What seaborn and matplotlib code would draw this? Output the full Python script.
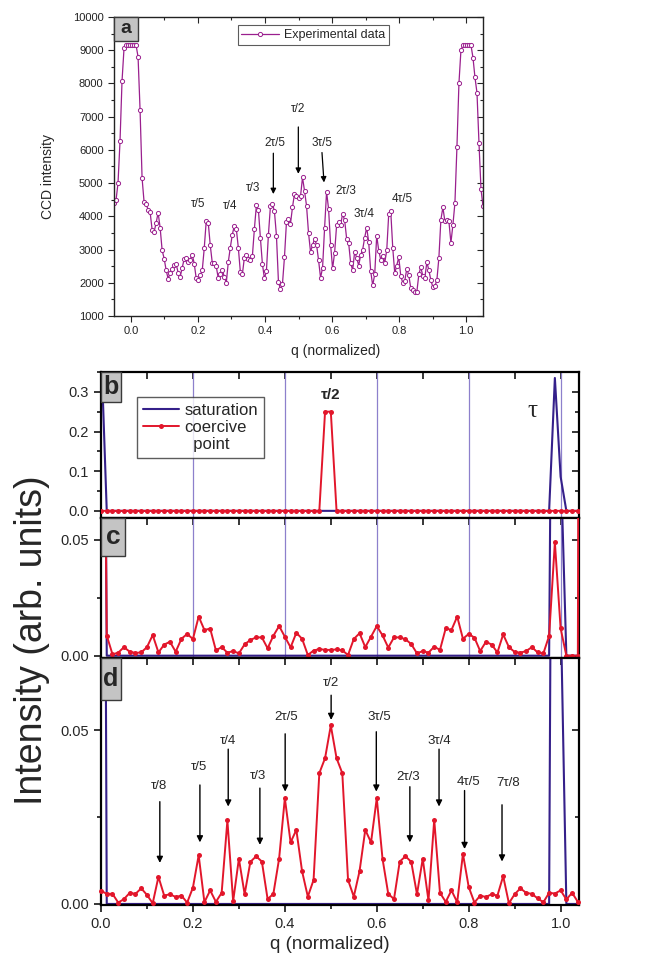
import numpy as np
import matplotlib
matplotlib.use("Agg")
import matplotlib.pyplot as plt
import seaborn as sns
from matplotlib.lines import Line2D
from matplotlib.patches import Rectangle
from matplotlib.ticker import MultipleLocator, FormatStrFormatter

sns.set_style("ticks")
plt.rcParams['font.family'] = ['Liberation Sans', 'DejaVu Sans']

# ---------------- panel a: measured CCD profile ----------------
ccd_counts = [
    4400, 4480, 5000, 6260, 8070, 9060, 9150, 9150, 9150, 9150,
    9150, 9150, 8800, 7200, 5150, 4430, 4370, 4200, 4130, 3600,
    3530, 3800, 4110, 3660, 2980, 2730, 2380, 2120, 2300, 2420,
    2530, 2560, 2300, 2180, 2450, 2720, 2750, 2620, 2700, 2850,
    2580, 2130, 2080, 2230, 2370, 3040, 3870, 3800, 3130, 2600,
    2600, 2490, 2130, 2250, 2390, 2180, 2000, 2630, 3060, 3450,
    3720, 3620, 3050, 2330, 2250, 2750, 2850, 2730, 2680, 2800,
    3620, 4330, 4200, 3350, 2570, 2130, 2350, 3450, 4300, 4380,
    4150, 3420, 2030, 1800, 1960, 2770, 3830, 3930, 3780, 4270,
    4680, 4620, 4550, 4600, 5170, 4770, 4320, 3500, 2930, 3130,
    3320, 3150, 2680, 2150, 2450, 3640, 4740, 4220, 3150, 2430,
    2900, 3730, 3830, 3750, 4070, 3890, 3330, 3200, 2600, 2380,
    2930, 2760, 2520, 2830, 3000, 3360, 3660, 3230, 2350, 1920,
    2250, 3420, 2970, 2700, 2820, 2600, 2980, 4080, 4150, 3050,
    2280, 2520, 2770, 2200, 2000, 2060, 2420, 2230, 1830, 1780,
    1710, 1720, 2250, 2470, 2200, 2150, 2620, 2380, 2080, 1870,
    1890, 2080, 2750, 3900, 4270, 3850, 3900, 3850, 3200, 3750,
    4400, 6080, 8000, 9000, 9150, 9150, 9150, 9150, 9150, 8780,
    8180, 7720, 6200, 4820, 4300,
]
q_exp = np.linspace(-0.05, 1.05, len(ccd_counts))

a_labels = ['τ/5', 'τ/4', 'τ/3', '2τ/5', 'τ/2', '3τ/5', '2τ/3', '3τ/4', '4τ/5']
a_label_q = [0.202, 0.296, 0.365, 0.431, 0.4975, 0.569, 0.642, 0.694, 0.808]
a_label_y = [4375, 4325, 4850, 6220, 7220, 6220, 4770, 4060, 4525]
a_arrow_tail_q = [0.425, 0.4995, 0.570]
a_arrow_tail_y = [5900, 6690, 5920]
a_arrow_tip_q = [0.425, 0.4995, 0.576]
a_arrow_tip_y = [4670, 5280, 5020]

# ---------------- panels b-d: simulated diffraction ----------------
q_step = 1.0 / 80
saturation = [0.42] + [0.0] * 78 + [0.335, 0.086] + [0.0] * 3

coercive_b = [0.0] * 39 + [0.25, 0.25] + [0.0] * 43

coercive_c = [
    0.30, 0.0087, 0.0006, 0.0013, 0.0037, 0.0017, 0.0012, 0.0014, 0.0037, 0.0089,
    0.0014, 0.0048, 0.0060, 0.0017, 0.0073, 0.0094, 0.0072, 0.0169, 0.0111, 0.0117,
    0.0023, 0.0037, 0.0013, 0.0020, 0.0010, 0.0049, 0.0068, 0.0079, 0.0079, 0.0032,
    0.0086, 0.0128, 0.0082, 0.0036, 0.0099, 0.0073, 0.0003, 0.0022, 0.0029, 0.0025,
    0.0025, 0.0027, 0.0023, 0.0003, 0.0072, 0.0097, 0.0037, 0.0082, 0.0128, 0.0088,
    0.0035, 0.0079, 0.0079, 0.0071, 0.0050, 0.0010, 0.0020, 0.0013, 0.0039, 0.0025,
    0.0118, 0.0111, 0.0169, 0.0073, 0.0094, 0.0078, 0.0020, 0.0060, 0.0048, 0.0014,
    0.0092, 0.0037, 0.0016, 0.0013, 0.0020, 0.0037, 0.0014, 0.0010, 0.0086, 0.0490,
    0.0118, 0.0, 0.0, 0.0, 1.0,
]

coercive_d = [
    0.0038, 0.0029, 0.0029, 0.0004, 0.0014, 0.0032, 0.0029, 0.0045, 0.0026, 0.0002,
    0.0078, 0.0024, 0.0028, 0.0020, 0.0024, 0.0004, 0.0047, 0.0140, 0.0005, 0.0039,
    0.0006, 0.0032, 0.0240, 0.0008, 0.0130, 0.0028, 0.0121, 0.0137, 0.0122, 0.0014,
    0.0029, 0.0130, 0.0304, 0.0177, 0.0213, 0.0094, 0.0021, 0.0069, 0.0376, 0.0419,
    0.0513, 0.0419, 0.0376, 0.0069, 0.0021, 0.0094, 0.0213, 0.0177, 0.0304, 0.0130,
    0.0029, 0.0014, 0.0122, 0.0137, 0.0121, 0.0028, 0.0130, 0.0010, 0.0242, 0.0032,
    0.0006, 0.0039, 0.0005, 0.0144, 0.0049, 0.0004, 0.0024, 0.0020, 0.0028, 0.0024,
    0.0080, 0.0002, 0.0028, 0.0045, 0.0032, 0.0029, 0.0016, 0.0005, 0.0032, 0.0030,
    0.0039, 0.0013, 0.0032, 0.0006,
]

q_sat = np.arange(len(saturation)) * q_step
q_b = np.arange(len(coercive_b)) * q_step
q_c = np.arange(len(coercive_c)) * q_step
q_d = np.arange(len(coercive_d)) * q_step

guide_q = [0.2, 0.4, 0.6, 0.8, 1.0]

d_labels = ['τ/8', 'τ/5', 'τ/4', 'τ/3', '2τ/5', 'τ/2', '3τ/5', '2τ/3', '3τ/4', '4τ/5', '7τ/8']
d_label_q = [0.127, 0.214, 0.277, 0.342, 0.4036, 0.4993, 0.605, 0.668, 0.737, 0.7986, 0.8855]
d_label_y = [0.0339, 0.0395, 0.0468, 0.0369, 0.0536, 0.0634, 0.0536, 0.0366, 0.0468, 0.0350, 0.0347]
d_arrow_q = [0.128, 0.2152, 0.2768, 0.3457, 0.4007, 0.5007, 0.599, 0.672, 0.7355, 0.791, 0.8725]
d_arrow_top = [0.0294, 0.0342, 0.0445, 0.0333, 0.0489, 0.0600, 0.0495, 0.0337, 0.0445, 0.0326, 0.0285]
d_arrow_tip = [0.0118, 0.0177, 0.0280, 0.0170, 0.0323, 0.0529, 0.0323, 0.0177, 0.0280, 0.0158, 0.0122]

PURPLE = '#9a1f8e'
RED = '#e2162b'
BLUE = '#35208a'
GUIDE = '#8d80cc'

W, H = 661, 965
fig = plt.figure(figsize=(W / 100, H / 100), dpi=100)


def axes_px(x0, y0, x1, y1):
    return fig.add_axes([x0 / W, 1 - y1 / H, (x1 - x0) / W, (y1 - y0) / H])


def inner_ticks(ax, xmaj, xmin, ymaj, ymin, lmaj, lmin, width):
    top = ax.secondary_xaxis('top')
    top.xaxis.set_major_locator(MultipleLocator(xmaj))
    top.xaxis.set_minor_locator(MultipleLocator(xmin))
    top.tick_params(which='both', direction='in', labeltop=False, width=width)
    top.tick_params(which='major', length=lmaj)
    top.tick_params(which='minor', length=lmin)
    right = ax.secondary_yaxis('right')
    right.yaxis.set_major_locator(MultipleLocator(ymaj))
    right.yaxis.set_minor_locator(MultipleLocator(ymin))
    right.tick_params(which='both', direction='in', labelright=False, width=width)
    right.tick_params(which='major', length=lmaj)
    right.tick_params(which='minor', length=lmin)
    for sec in (top, right):
        for sp in sec.spines.values():
            sp.set_visible(False)


def panel_tag(ax, letter, w_px, h_px, size):
    bb = ax.get_position()
    aw, ah = bb.width * W, bb.height * H
    w, h = w_px / aw, h_px / ah
    ax.add_patch(Rectangle((0, 1 - h), w, h, transform=ax.transAxes,
                           facecolor='#c4c4c4', edgecolor='#3a3a3a', lw=1.0,
                           zorder=6, clip_on=False))
    ax.text(w / 2, 1 - h / 2, letter, transform=ax.transAxes, ha='center',
            va='center', fontsize=size, fontweight='bold', zorder=7)


# ---------------- panel a ----------------
ax_a = axes_px(114, 17, 483, 316)
sns.lineplot(x=q_exp, y=ccd_counts, ax=ax_a, color=PURPLE, linewidth=0.9,
             marker='o', markersize=3.0, markerfacecolor='white',
             markeredgecolor=PURPLE, markeredgewidth=0.7, sort=False,
             estimator=None, label='Experimental data')
ax_a.set_xlim(-0.05, 1.05)
ax_a.set_ylim(1000, 10000)
ax_a.xaxis.set_major_locator(MultipleLocator(0.2))
ax_a.xaxis.set_minor_locator(MultipleLocator(0.1))
ax_a.yaxis.set_major_locator(MultipleLocator(1000))
ax_a.yaxis.set_minor_locator(MultipleLocator(500))
ax_a.xaxis.set_major_formatter(FormatStrFormatter('%.1f'))
ax_a.tick_params(which='both', direction='out', labelsize=8, width=0.8,
                 colors='#222222')
ax_a.tick_params(which='major', length=4)
ax_a.tick_params(which='minor', length=2.5)
inner_ticks(ax_a, 0.2, 0.1, 1000, 500, 4, 2.5, 0.8)
for sp in ax_a.spines.values():
    sp.set_linewidth(1.0)
    sp.set_color('#222222')
ax_a.set_ylabel('CCD intensity', fontsize=10)
ax_a.yaxis.set_label_coords(-0.16, 0.465)
ax_a.set_xlabel('q (normalized)', fontsize=10)
ax_a.xaxis.set_label_coords(0.60, -0.092)
for lab, lq, ly in zip(a_labels, a_label_q, a_label_y):
    ax_a.text(lq, ly, lab, ha='center', va='center', fontsize=8.5)
for tq, ty, hq, hy in zip(a_arrow_tail_q, a_arrow_tail_y, a_arrow_tip_q, a_arrow_tip_y):
    ax_a.annotate('', xy=(hq, hy), xytext=(tq, ty),
                  arrowprops=dict(arrowstyle='-|>', color='black', lw=0.9,
                                  mutation_scale=8, shrinkA=0, shrinkB=0))
leg_a = ax_a.legend(loc='upper center', bbox_to_anchor=(0.54, 0.972),
                    fontsize=9, frameon=True, fancybox=False, handlelength=3.0,
                    borderpad=0.3, handletextpad=0.4, borderaxespad=0)
leg_a.get_frame().set_edgecolor('#333333')
leg_a.get_frame().set_linewidth(0.8)
panel_tag(ax_a, 'a', 24, 24, 14)

# ---------------- panels b, c, d ----------------
ax_b = axes_px(101, 372, 579, 518)
ax_c = axes_px(101, 518, 579, 658)
ax_d = axes_px(101, 658, 579, 905)

for ax in (ax_b, ax_c):
    for gq in guide_q:
        ax.axvline(gq, color=GUIDE, lw=0.9, zorder=1)

for ax in (ax_b, ax_c, ax_d):
    sns.lineplot(x=q_sat, y=saturation, ax=ax, color=BLUE, linewidth=1.5,
                 sort=False, estimator=None, label='saturation', zorder=2)

sns.lineplot(x=q_b, y=coercive_b, ax=ax_b, color=RED, linewidth=1.4,
             marker='o', markersize=3.6, markeredgewidth=0, sort=False,
             estimator=None, label='coercive', zorder=3)
sns.lineplot(x=q_c, y=coercive_c, ax=ax_c, color=RED, linewidth=1.4,
             marker='o', markersize=3.6, markeredgewidth=0, sort=False,
             estimator=None, zorder=3)
sns.lineplot(x=q_d, y=coercive_d, ax=ax_d, color=RED, linewidth=1.4,
             marker='o', markersize=3.6, markeredgewidth=0, sort=False,
             estimator=None, zorder=3, clip_on=False)

ax_b.set_ylim(-0.018, 0.35)
ax_c.set_ylim(-0.001, 0.0595)
ax_d.set_ylim(-0.0003, 0.0707)
ax_b.yaxis.set_major_locator(MultipleLocator(0.1))
ax_b.yaxis.set_minor_locator(MultipleLocator(0.05))
ax_b.yaxis.set_major_formatter(FormatStrFormatter('%.1f'))
for ax in (ax_c, ax_d):
    ax.yaxis.set_major_locator(MultipleLocator(0.05))
    ax.yaxis.set_minor_locator(MultipleLocator(0.025))
    ax.yaxis.set_major_formatter(FormatStrFormatter('%.2f'))

for ax, ymaj, ymin in ((ax_b, 0.1, 0.05), (ax_c, 0.05, 0.025), (ax_d, 0.05, 0.025)):
    ax.set_xlim(0, 1.04)
    ax.xaxis.set_major_locator(MultipleLocator(0.2))
    ax.xaxis.set_minor_locator(MultipleLocator(0.1))
    ax.xaxis.set_major_formatter(FormatStrFormatter('%.1f'))
    ax.tick_params(which='both', direction='out', labelsize=10.5, width=1.3)
    ax.tick_params(which='major', length=5)
    ax.tick_params(which='minor', length=3)
    inner_ticks(ax, 0.1, 0.1, ymaj, ymin, 5, 3, 1.3)
    for sp in ax.spines.values():
        sp.set_linewidth(1.6)
        sp.set_color('black')
    ax.set_ylabel('')
    ax.set_xlabel('')

for ax in (ax_b, ax_c):
    ax.tick_params(axis='x', which='both', bottom=False, labelbottom=False)

ax_d.set_xlabel('q (normalized)', fontsize=13.5)
ax_d.xaxis.set_label_coords(0.478, -0.125)

# legend: the second entry's wrapped word sits on its own row
handles, labels = ax_b.get_legend_handles_labels()
handles.append(Line2D([], [], linestyle='none', marker=None))
labels.append('  point')
leg_b = ax_b.legend(handles, labels, loc='upper left',
                    bbox_to_anchor=(0.075, 0.827), fontsize=12, frameon=True,
                    fancybox=False, handlelength=2.2, borderpad=0.35,
                    labelspacing=0.12, handletextpad=0.3, borderaxespad=0)
leg_b.get_frame().set_edgecolor('#333333')
leg_b.get_frame().set_linewidth(1.0)
for ax in (ax_c, ax_d):
    if ax.get_legend() is not None:
        ax.get_legend().remove()

ax_b.text(0.5, 0.293, 'τ/2', ha='center', va='center', fontsize=11,
          fontweight='bold')
ax_b.text(0.938, 0.251, 'τ', ha='center', va='center', fontsize=18,
          family=['Liberation Serif', 'DejaVu Serif'])

for lab, lq, ly in zip(d_labels, d_label_q, d_label_y):
    ax_d.text(lq, ly, lab, ha='center', va='center', fontsize=9.5)
for aq, top, tip in zip(d_arrow_q, d_arrow_top, d_arrow_tip):
    ax_d.annotate('', xy=(aq, tip), xytext=(aq, top),
                  arrowprops=dict(arrowstyle='-|>', color='black', lw=1.0,
                                  mutation_scale=9, shrinkA=0, shrinkB=0))

panel_tag(ax_b, 'b', 20, 30, 18)
panel_tag(ax_c, 'c', 24, 38, 19)
panel_tag(ax_d, 'd', 20, 42, 18)

fig.text(32 / W, 1 - 640 / H, 'Intensity (arb. units)', rotation=90,
         ha='center', va='center', fontsize=27)

fig.savefig('out.png', dpi=100)
